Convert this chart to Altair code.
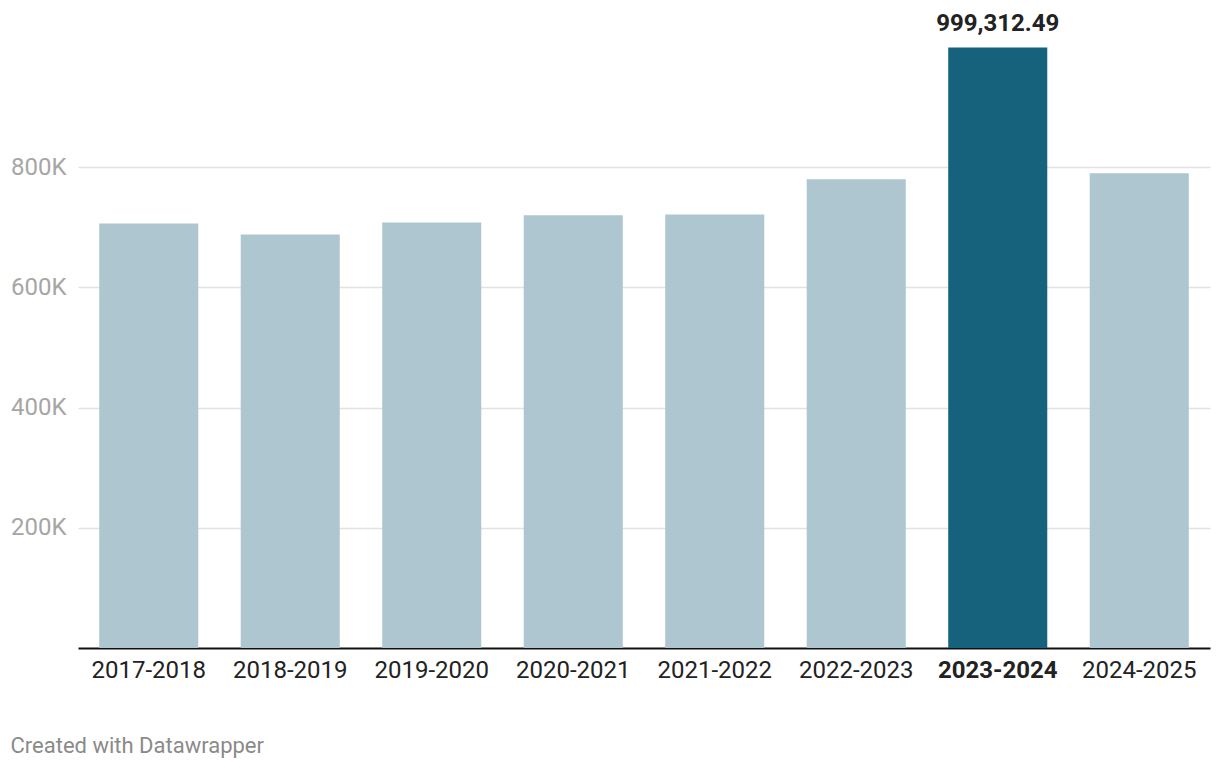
import altair as alt
import pandas as pd

years = ["2017-2018", "2018-2019", "2019-2020", "2020-2021", "2021-2022",
         "2022-2023", "2023-2024", "2024-2025"]
values = [706500, 688000, 708000, 720000, 721500, 780000, 999312.49, 790000]
highlight_year = "2023-2024"
label_text = ["", "", "", "", "", "", "999,312.49", ""]

df = pd.DataFrame({"year": years, "value": values, "label": label_text})
df["hl"] = df["year"] == highlight_year

FONT = "Roboto"

x = alt.X("year:N", sort=years, title=None,
          scale=alt.Scale(paddingInner=0.3, paddingOuter=0.15),
          axis=alt.Axis(labelAngle=0, labelFontSize=24, labelColor="#222222",
                        labelFont=FONT, labelPadding=10, ticks=False,
                        domainColor="#111111", domainWidth=2,
                        labelFontWeight={"condition": {"test": f"datum.value == '{highlight_year}'", "value": "bold"}, "value": "normal"}))

y = alt.Y("value:Q", title=None,
          scale=alt.Scale(domain=[0, 1000000], nice=False),
          axis=alt.Axis(values=[200000, 400000, 600000, 800000],
                        labelExpr="datum.value/1000 + 'K'",
                        labelFontSize=24, labelColor="#a6a6a6", labelFont=FONT,
                        labelPadding=12, ticks=False, domain=False,
                        gridColor="#e2e2e2", gridWidth=1.5))

bars = alt.Chart(df).mark_bar().encode(
    x=x, y=y,
    color=alt.condition(alt.datum.hl, alt.value("#16617b"), alt.value("#aec6cf")),
)

text = alt.Chart(df).mark_text(dy=-16, baseline="alphabetic", fontSize=24,
                               fontWeight="bold", font=FONT, color="#222222").encode(
    x=alt.X("year:N", sort=years),
    y="value:Q",
    text="label:N",
)

chart = (bars + text).properties(
    width=1204, height=752,
    autosize=alt.AutoSizeParams(type="fit", contains="padding"),
    padding={"left": 2, "top": 4, "right": 2, "bottom": 3},
    title=alt.TitleParams("Created with Datawrapper", orient="bottom", anchor="start",
                          frame="bounds", fontSize=22, font=FONT, fontWeight="normal",
                          color="#8a8a8a", offset=54),
).configure_view(stroke=None).configure_axis(grid=True).configure_axisX(grid=False)

chart.save("out.html", embed_options={"renderer": "svg", "actions": False})
